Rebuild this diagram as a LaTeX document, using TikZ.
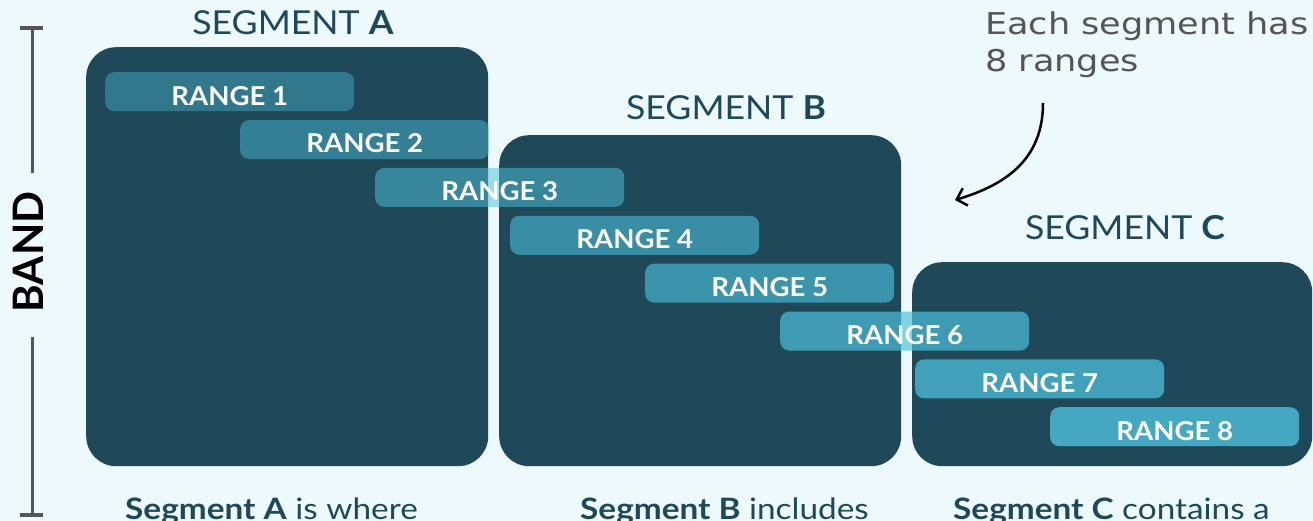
\documentclass[tikz,border=0pt]{standalone}
\usepackage{fontspec}
\setmainfont{Lato}
\newfontfamily\titlefont{Lato}[FakeStretch=1.08]
\newfontfamily\rangefont{Lato}[FakeStretch=1.06]
\newfontfamily\bottomfont{Lato}[FakeStretch=1.13]
\newfontfamily\notefont{DejaVu Sans}[FakeStretch=1.17]
\usetikzlibrary{arrows.meta}
\definecolor{bgc}{RGB}{238,249,251}
\definecolor{segc}{RGB}{31,72,88}
\definecolor{rngc}{RGB}{78,193,222}
\definecolor{bandc}{RGB}{85,85,85}
\definecolor{notec}{RGB}{85,85,85}
\tikzset{
  segbox/.style={fill=segc, rounded corners=30pt, inner sep=0pt, anchor=north west},
  rngbox/.style={fill=rngc, rounded corners=9pt, inner sep=0pt, anchor=north west,
    minimum width=249pt, minimum height=39pt},
  rlab/.style={text=white, font=\rangefont\fontsize{26}{30}\selectfont\bfseries, inner sep=0pt},
  segtitle/.style={text=segc, font=\titlefont\fontsize{33}{40}\selectfont, inner sep=0pt, anchor=base},
  bottomtxt/.style={text=segc, font=\bottomfont\fontsize{29.5}{34}\selectfont, inner sep=0pt, anchor=base west},
  notetxt/.style={text=notec, font=\notefont\fontsize{30}{36}\selectfont, inner sep=0pt, anchor=base west},
  bandline/.style={draw=bandc, line width=3pt},
  bandcap/.style={draw=bandc, line width=4pt},
}
\begin{document}
\begin{tikzpicture}[x=1pt,y=-1pt]
\fill[bgc] (0,0) rectangle (1313,521);
\useasboundingbox (0,0) rectangle (1313,521);
% segments
\node[segbox, minimum width=402pt, minimum height=419pt] (segA) at (86,47) {};
\node[segbox, minimum width=402pt, minimum height=331pt] (segB) at (499,135) {};
\node[segbox, minimum width=400pt, minimum height=204pt] (segC) at (912,262) {};
% ranges
\foreach \i in {1,...,8}{
  \pgfmathsetmacro{\xl}{105+135*(\i-1)}
  \pgfmathsetmacro{\yt}{72+47.86*(\i-1)}
  \pgfmathsetmacro{\op}{0.40+0.4*(\i-1)/7}
  \node[rngbox, fill opacity=\op] (r\i) at (\xl,\yt) {};
  \node[rlab] (l\i) at ([yshift=-4pt]r\i.center) {RANGE \i};
}
% titles
\node[segtitle] (tA) at (293,35) {SEGMENT \textbf{A}};
\node[segtitle] (tB) at (726,120) {SEGMENT \textbf{B}};
\node[segtitle] (tC) at (1125,240) {SEGMENT \textbf{C}};
% bottom texts
\node[bottomtxt] (bA) at (125,519) {\textbf{Segment A} is where};
\node[bottomtxt] (bB) at (580,519) {\textbf{Segment B} includes};
\node[bottomtxt] (bC) at (953,519) {\textbf{Segment C} contains a};
% band
\node[rotate=90, font=\fontsize{42}{48}\selectfont\bfseries, inner sep=0pt] (band) at (28,252) {BAND};
\coordinate (btop) at (32,28);
\coordinate (bbot) at (32,515);
\coordinate (bg1) at (32,173);
\coordinate (bg2) at (32,337);
\draw[bandline] (btop) -- (bg1);
\draw[bandline] (bg2) -- (bbot);
\draw[bandcap] ([xshift=-12pt]btop) -- ([xshift=11pt]btop);
\draw[bandcap] ([xshift=-12pt]bbot) -- ([xshift=11pt]bbot);
% annotation
\node[notetxt] (n1) at (985,35) {Each segment has};
\node[notetxt] (n2) at (985,72) {8 ranges};
\coordinate (as) at (1043,103);
\coordinate (ae) at (955,200);
\draw[line width=2.5pt, -{Straight Barb[length=9pt,width=18pt]}] (as) .. controls (1043,160) and (1005,185) .. (ae);
\end{tikzpicture}
\end{document}
